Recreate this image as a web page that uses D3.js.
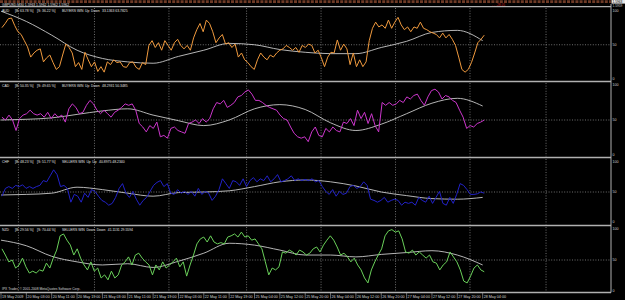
<!DOCTYPE html>
<html>
<head>
<meta charset="utf-8">
<script src="https://cdn.jsdelivr.net/npm/d3@7"></script>
<style>
  body { margin: 0; background: #000; }
  svg { display: block; font-family: "Liberation Sans", Arial, sans-serif; }
</style>
</head>
<body>
<div id="chart"></div>
<script>
// readings 0..100, spread evenly from the first to the last bar (M30 bars)
var audValues = [75,81,88,89,78,69,65,56,47,32,38,42,44,25,31,35,24,14,18,35,51,46,38,18,24,14,39,28,18,25,11,18,10,25,21,28,24,25,18,17,24,25,17,14,24,21,49,56,46,53,42,56,49,42,53,58,49,44,49,42,60,72,81,69,86,81,69,53,60,65,51,53,46,51,32,38,28,24,18,14,28,38,32,28,35,32,38,42,44,49,46,42,46,39,49,46,51,49,38,42,31,18,32,39,38,57,42,51,44,21,38,18,28,18,25,56,74,83,76,79,74,86,74,83,90,79,72,76,69,76,74,83,74,72,69,67,65,60,67,60,65,58,49,32,14,10,14,24,38,53,58,64];
var cadValues = [54,50,57,50,35,52,57,59,64,59,57,59,54,61,52,59,54,57,47,66,73,68,59,61,71,78,73,64,59,64,59,54,61,64,68,73,71,73,64,45,40,33,42,38,47,26,28,24,38,40,35,33,31,45,47,50,45,52,47,52,66,75,73,78,68,71,75,83,85,90,93,87,78,78,75,71,68,66,64,57,52,50,40,31,26,24,26,19,33,40,28,26,38,33,40,35,33,47,45,52,42,64,52,61,45,59,42,33,75,71,75,71,73,78,75,83,80,85,87,78,71,83,92,94,90,80,85,83,78,75,64,54,38,42,40,45,47,50];
var chfValues = [43,56,59,56,61,59,62,56,59,56,59,61,69,67,77,87,79,59,61,56,33,46,43,33,48,41,54,51,43,36,33,28,31,41,56,64,48,41,51,38,28,36,41,51,61,66,69,59,64,48,46,54,48,51,46,51,43,56,46,51,48,36,43,54,72,64,56,69,67,61,72,59,69,74,67,72,69,77,67,72,79,67,69,72,77,69,72,69,71,69,72,67,69,59,51,46,54,43,51,46,48,59,61,56,59,67,61,38,36,33,36,41,33,36,38,36,28,33,31,33,28,41,36,33,43,31,41,51,31,28,41,31,46,64,61,54,46,46,47,50,48];
var nzdValues = [68,58,47,50,37,42,53,39,29,32,29,34,32,45,37,53,66,89,92,82,74,58,68,53,42,34,47,32,37,21,26,18,32,21,26,42,47,55,42,58,61,53,47,42,26,42,34,47,37,42,47,53,39,47,24,42,58,76,84,87,79,89,79,76,78,76,87,89,92,87,95,87,89,82,84,76,68,47,26,37,34,39,63,61,66,63,58,66,63,58,61,68,71,63,74,82,89,82,71,58,61,55,47,53,42,34,21,13,34,47,58,68,89,97,99,95,97,84,63,61,66,58,63,58,53,58,47,45,34,42,47,63,55,47,34,16,13,24,37,42,34,31];

// moving averages, one reading every 16 bars (at each time label)
var audAvg = [99,84,64,42,30,25,23,33,42,52,50,43,39,37,37,46,55,68,71,56];
var cadAvg = [50,51,53,58,63,66,57,49,42,50,66,72,65,46,35,44,59,74,81,70];
var chfAvg = [45,46,48,58,54,48,43,49,50,52,59,67,70,67,60,50,44,39,38,41];
var nzdAvg = [82,73,56,47,42,44,38,48,61,77,74,66,58,58,55,59,62,65,58,42];

var currencies = ["AUD", "CAD", "CHF", "NZD"];
var buyPct = ["63.78", "50.35", "48.23", "29.56"];
var sellPct = ["36.22", "49.65", "51.77", "70.44"];
var verdict = ["BUYERS WIN", "BUYERS WIN", "SELLERS WIN", "SELLERS WIN"];
var trendA = ["Up", "Up", "Up", "Down"];
var trendB = ["Down", "Down", "Up", "Down"];
var readouts = ["33.1363 63.7825", "48.2931 50.3485", "40.8975 48.2340", "41.1131 29.5594"];

var timeLabels = ["19 May 2009", "20 May 03:00", "20 May 11:00", "20 May 19:00", "21 May 03:00",
  "21 May 11:00", "21 May 19:00", "22 May 03:00", "22 May 11:00", "22 May 19:00", "25 May 04:00",
  "25 May 12:00", "25 May 20:00", "26 May 04:00", "26 May 12:00", "26 May 20:00", "27 May 04:00",
  "27 May 12:00", "27 May 20:00", "28 May 04:00"];
var gridBars = [11, 59, 106, 155, 202, 249, 296, 344];
var levels = [100, 50, 0];

var W = 625, H = 300;
var firstBar = 0.6, lastBar = 305, labelStep = 16;

var colors = ["#f09a3e", "#cc36cc", "#2222c8", "#6ad05a"];
var boxes = [
  {top: 7, bottom: 81.5, y100: 10.5, y0: 79},
  {top: 82, bottom: 157.5, y100: 85, y0: 155},
  {top: 158, bottom: 225.5, y100: 162, y0: 222},
  {top: 226, bottom: 292.5, y100: 229, y0: 291}
];
var series = [audValues, cadValues, chfValues, nzdValues];
var avgs = [audAvg, cadAvg, chfAvg, nzdAvg];

var svg = d3.select("#chart").append("svg").attr("width", W).attr("height", H);
svg.append("rect").attr("width", W).attr("height", H).attr("fill", "#000");

var x = d3.scaleLinear().domain([0, 385]).range([1, 611]);

// main window squeezed to a strip on top
svg.append("line").attr("x1", 0).attr("x2", 611).attr("y1", 1.6).attr("y2", 1.6)
  .attr("stroke", "#6e3a26").attr("stroke-width", 2.6).attr("stroke-dasharray", "3,1.2");
svg.append("text").attr("x", 2).attr("y", 5.6).attr("font-size", 3.4).attr("fill", "#e0e0e0")
  .text("GBPUSD,M30  1.5963 1.5962 1.5962 1.5962");
svg.append("text").attr("x", 492).attr("y", 5.8).attr("font-size", 3.2).attr("fill", "#c81e1e")
  .text("- - -28.05");
svg.append("rect").attr("x", 611.5).attr("y", 0).attr("width", 13.5).attr("height", 3.6).attr("fill", "#e8e8e8");
svg.append("text").attr("x", 612.5).attr("y", 3.1).attr("font-size", 3.2).attr("fill", "#000").text("1.5963");
svg.append("text").attr("x", 612.5).attr("y", 6.8).attr("font-size", 3.2).attr("fill", "#d0d0d0").text("1.5959");

boxes.forEach(function (b, i) {
  var y = d3.scaleLinear().domain([0, 100]).range([b.y0, b.y100]);
  var g = svg.append("g");

  // dotted grid
  g.selectAll(".vgrid").data(gridBars).enter().append("line")
    .attr("x1", function (d) { return x(d); }).attr("x2", function (d) { return x(d); })
    .attr("y1", b.top + 1).attr("y2", b.bottom - 1)
    .attr("stroke", "#8a8a8a").attr("stroke-width", 0.8).attr("stroke-dasharray", "1,1.6");
  g.append("line").attr("x1", 0).attr("x2", 611).attr("y1", y(50)).attr("y2", y(50))
    .attr("stroke", "#8a8a8a").attr("stroke-width", 0.8).attr("stroke-dasharray", "1,1.6");

  // level labels on the right
  g.selectAll(".lvl").data(levels).enter().append("text")
    .attr("x", 612.5).attr("y", function (d) { return y(d); })
    .attr("dy", "0.35em").attr("font-size", 3.6).attr("fill", "#d0d0d0")
    .text(function (d) { return d; });

  // moving average
  var avgLine = d3.line()
    .x(function (d, k) { return x(k * labelStep); })
    .y(function (d) { return y(d); })
    .curve(d3.curveMonotoneX);
  g.append("path").datum(avgs[i]).attr("d", avgLine)
    .attr("fill", "none").attr("stroke", "#c8c8c8").attr("stroke-width", 0.9);

  // currency strength line
  var vals = series[i];
  var barOf = d3.scaleLinear().domain([0, vals.length - 1]).range([firstBar, lastBar]);
  var valLine = d3.line()
    .x(function (d, k) { return x(barOf(k)); })
    .y(function (d) { return y(d); });
  g.append("path").datum(vals).attr("d", valLine)
    .attr("fill", "none").attr("stroke", colors[i]).attr("stroke-width", 1)
    .attr("stroke-linejoin", "round");

  // header
  var t = g.append("text").attr("y", b.top + 5.2).attr("font-size", 3.4).attr("fill", "#e0e0e0");
  t.append("tspan").attr("x", 2).text(currencies[i]);
  t.append("tspan").attr("x", 15).text("[B: " + buyPct[i] + " %]");
  t.append("tspan").attr("x", 37).text("[S: " + sellPct[i] + " %]");
  t.append("tspan").attr("x", 62).text(verdict[i]);
  t.append("tspan").attr("dx", 1.6).text(trendA[i]);
  t.append("tspan").attr("dx", 1.6).text(trendB[i]);
  t.append("tspan").attr("dx", 2.4).text(readouts[i]);

  // separator under the panel
  svg.append("line").attr("x1", 0).attr("x2", 611).attr("y1", b.bottom).attr("y2", b.bottom)
    .attr("stroke", "#b0b0b0").attr("stroke-width", 1.3);
});

// top border of the first panel and right price axis
svg.append("line").attr("x1", 0).attr("x2", 611).attr("y1", 6.6).attr("y2", 6.6)
  .attr("stroke", "#b0b0b0").attr("stroke-width", 1.3);
svg.append("line").attr("x1", 611).attr("x2", 611).attr("y1", 4).attr("y2", 292.5)
  .attr("stroke", "#b0b0b0").attr("stroke-width", 1);

// time axis
var ta = svg.append("g");
ta.selectAll("line").data(timeLabels).enter().append("line")
  .attr("x1", function (d, k) { return x(k * labelStep); })
  .attr("x2", function (d, k) { return x(k * labelStep); })
  .attr("y1", 292.5).attr("y2", 298.5)
  .attr("stroke", "#b0b0b0").attr("stroke-width", 0.6);
ta.selectAll("text").data(timeLabels).enter().append("text")
  .attr("x", function (d, k) { return x(k * labelStep) + 1; })
  .attr("y", 298).attr("font-size", 3.7).attr("fill", "#d8d8d8")
  .text(function (d) { return d; });

svg.append("text").attr("x", 2).attr("y", 290.2).attr("font-size", 3.3).attr("fill", "#d8d8d8")
  .text("IPX Trader, \u00a9 2001-2008 MetaQuotes Software Corp.");
</script>
</body>
</html>
